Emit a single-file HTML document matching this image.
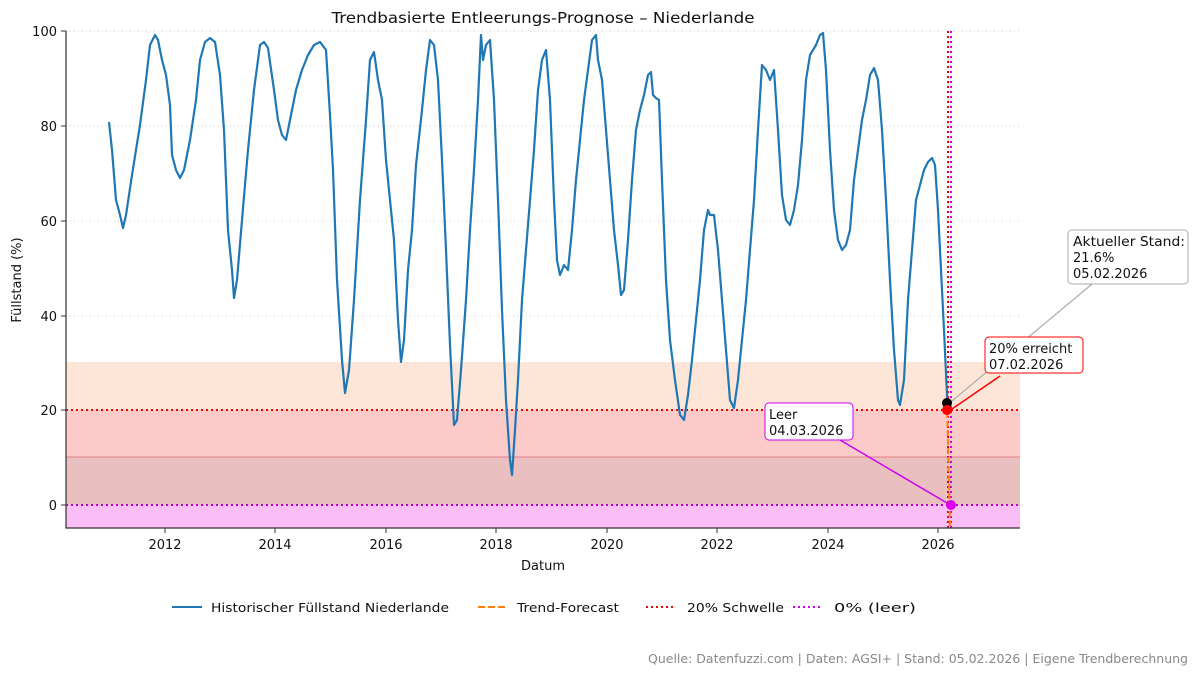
<!DOCTYPE html><html><head><meta charset="utf-8"><style>body{margin:0;background:#fff}svg{display:block;font-family:"DejaVu Sans","Liberation Sans",sans-serif}</style></head><body>
<svg width="1200" height="676" viewBox="0 0 1200 676">
<rect x="66" y="362" width="954" height="48" fill="#fde6d8"/>
<rect x="66" y="410" width="954" height="47" fill="#fdcaca"/>
<rect x="66" y="457" width="954" height="48" fill="#e9bfbf"/>
<line x1="66" y1="457" x2="1020" y2="457" stroke="#e08080" stroke-width="1"/>
<rect x="66" y="505" width="954" height="23" fill="#fbbdf5"/>
<g stroke="#ccc" stroke-dasharray="1,3" stroke-width="1">
<line x1="66" y1="31" x2="1020" y2="31"/><line x1="66" y1="126" x2="1020" y2="126"/><line x1="66" y1="221" x2="1020" y2="221"/><line x1="66" y1="316" x2="1020" y2="316"/></g>
<line x1="66" y1="410" x2="1020" y2="410" stroke="#e00" stroke-width="2" stroke-dasharray="2,3"/>
<line x1="66" y1="505" x2="1020" y2="505" stroke="#b0c" stroke-width="2" stroke-dasharray="2,3"/>
<line x1="948" y1="31" x2="948" y2="528" stroke="#e00" stroke-width="2" stroke-dasharray="2,3"/>
<line x1="951" y1="31" x2="951" y2="528" stroke="#c0e" stroke-width="2" stroke-dasharray="2,3"/>
<polyline fill="none" stroke="#1f77b4" stroke-width="2.2" stroke-linejoin="round" points="109,122 112,150 116,200 120,215 123,228 126,215 132,175 140,125 146,80 150,45 155,35 158,40 162,60 166,75 170,105 172,155 176,170 180,178 184,170 190,140 196,100 200,60 205,42 210,38 215,42 220,75 224,130 228,230 232,270 234,298 237,280 242,220 248,150 254,90 260,45 264,42 268,48 274,90 278,120 282,135 286,140 290,120 296,90 302,70 308,55 314,45 320,42 326,50 330,115 333,170 337,280 342,360 345,393 349,370 354,300 360,200 366,120 370,60 374,52 378,80 382,100 386,160 390,200 394,240 398,320 401,362 404,340 408,270 412,230 416,165 422,110 426,70 430,40 434,45 438,80 442,160 446,250 450,345 454,425 457,420 461,370 466,300 470,230 474,170 478,100 481,35 483,60 486,45 490,40 494,100 498,200 502,310 506,400 510,460 512,475 515,430 518,380 522,300 526,250 530,200 534,150 538,90 542,60 546,50 550,100 554,200 557,260 560,275 564,265 568,270 572,230 576,180 580,140 584,100 588,70 592,40 596,35 598,60 602,80 606,130 610,180 614,230 618,265 621,295 624,290 628,240 632,180 636,130 640,110 644,95 648,75 651,72 653,95 656,98 659,100 662,180 666,280 670,340 675,380 680,415 684,420 688,395 692,360 696,320 700,280 704,230 708,210 710,215 714,215 718,250 722,300 726,350 730,400 734,408 738,380 742,340 746,300 750,250 754,200 758,130 762,65 766,70 770,80 774,70 778,130 782,195 786,220 790,225 794,210 798,185 802,140 806,80 810,55 816,45 820,35 823,33 826,70 830,150 834,210 838,240 842,250 846,245 850,230 854,180 858,150 862,120 866,100 870,75 874,68 878,80 882,130 886,200 890,280 894,350 898,400 900,405 904,380 908,300 912,250 916,200 920,185 924,170 928,162 932,158 935,165 938,210 941,270 944,330 947,395 947,403"/>
<line x1="947" y1="403" x2="950" y2="528" stroke="#ff7f0e" stroke-width="2" stroke-dasharray="6,3"/>
<path d="M66,31V528H1020" fill="none" stroke="#333" stroke-width="1.2"/>
<g font-size="13" fill="#111" text-anchor="end">
<text x="57" y="36">100</text><text x="57" y="131">80</text><text x="57" y="226">60</text><text x="57" y="321">40</text><text x="57" y="415">20</text><text x="57" y="510">0</text></g>
<g stroke="#333"><line x1="61" y1="31" x2="66" y2="31"/><line x1="61" y1="126" x2="66" y2="126"/><line x1="61" y1="221" x2="66" y2="221"/><line x1="61" y1="316" x2="66" y2="316"/><line x1="61" y1="410" x2="66" y2="410"/><line x1="61" y1="505" x2="66" y2="505"/>
<line x1="165" y1="528" x2="165" y2="533"/><line x1="275" y1="528" x2="275" y2="533"/><line x1="386" y1="528" x2="386" y2="533"/><line x1="496" y1="528" x2="496" y2="533"/><line x1="607" y1="528" x2="607" y2="533"/><line x1="717" y1="528" x2="717" y2="533"/><line x1="828" y1="528" x2="828" y2="533"/><line x1="938" y1="528" x2="938" y2="533"/></g>
<g font-size="13" fill="#111" text-anchor="middle">
<text x="165" y="549">2012</text><text x="275" y="549">2014</text><text x="386" y="549">2016</text><text x="496" y="549">2018</text><text x="607" y="549">2020</text><text x="717" y="549">2022</text><text x="828" y="549">2024</text><text x="938" y="549">2026</text>
<text x="543" y="570">Datum</text>
<text x="543" y="23" font-size="15.5" textLength="423" lengthAdjust="spacingAndGlyphs">Trendbasierte Entleerungs-Prognose – Niederlande</text>
<text transform="translate(21,280) rotate(-90)">Füllstand (%)</text></g>
<circle cx="947" cy="403" r="5" fill="#000"/><circle cx="947" cy="410" r="5" fill="red"/><circle cx="951" cy="505" r="5" fill="#d0e"/>
<line x1="1092" y1="284" x2="952" y2="401" stroke="#aaa" stroke-width="1.2"/>
<line x1="1000" y1="376" x2="952" y2="409" stroke="red" stroke-width="1.5"/>
<line x1="840" y1="440" x2="947" y2="503" stroke="#c0e" stroke-width="1.5"/>
<rect x="1068" y="230" width="120" height="54" rx="4" fill="#fff" stroke="#aaa"/>
<rect x="985" y="337" width="98" height="36" rx="4" fill="#fff" stroke="red"/>
<rect x="765" y="403" width="88" height="37" rx="4" fill="#fff" stroke="#c0e"/>
<g font-size="13" fill="#111">
<text x="1073" y="246" textLength="112" lengthAdjust="spacingAndGlyphs">Aktueller Stand:</text><text x="1073" y="262">21.6%</text><text x="1073" y="278">05.02.2026</text>
<text x="989" y="353">20% erreicht</text><text x="989" y="369">07.02.2026</text>
<text x="769" y="419">Leer</text><text x="769" y="435">04.03.2026</text></g>
<line x1="172" y1="607" x2="202" y2="607" stroke="#1f77b4" stroke-width="2"/>
<line x1="478" y1="607" x2="508" y2="607" stroke="#ff7f0e" stroke-width="2" stroke-dasharray="7,3"/>
<line x1="646" y1="607" x2="676" y2="607" stroke="#e00" stroke-width="2" stroke-dasharray="2,3"/>
<line x1="793" y1="607" x2="823" y2="607" stroke="#c0e" stroke-width="2" stroke-dasharray="2,3"/>
<g font-size="12.5" fill="#111"><text x="211" y="612" textLength="238" lengthAdjust="spacingAndGlyphs">Historischer Füllstand Niederlande</text><text x="517" y="612" textLength="102" lengthAdjust="spacingAndGlyphs">Trend-Forecast</text><text x="687" y="612" textLength="97" lengthAdjust="spacingAndGlyphs">20% Schwelle</text><text x="834" y="612" textLength="82" lengthAdjust="spacingAndGlyphs">0% (leer)</text></g>
<text x="1188" y="663" font-size="12.5" fill="#888" text-anchor="end" textLength="540" lengthAdjust="spacingAndGlyphs">Quelle: Datenfuzzi.com | Daten: AGSI+ | Stand: 05.02.2026 | Eigene Trendberechnung</text>
</svg></body></html>
